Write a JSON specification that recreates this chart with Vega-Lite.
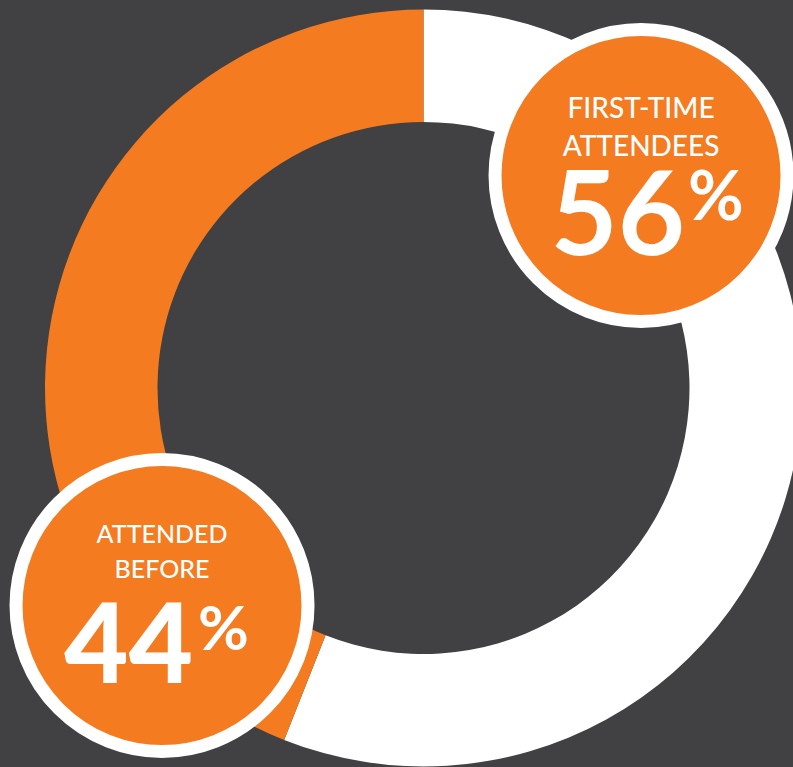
{
  "$schema": "https://vega.github.io/schema/vega-lite/v6.json",
  "width": 739,
  "height": 758,
  "autosize": {"type": "none"},
  "padding": {"left": 54, "top": 9, "right": 0, "bottom": 0},
  "background": "#414042",
  "config": {"view": {"stroke": null}},
  "data": {
    "values": [
      {"group": "First-time attendees", "share": 56, "line1": "FIRST-TIME", "line2": "ATTENDEES"},
      {"group": "Attended before", "share": 44, "line1": "ATTENDED", "line2": "BEFORE"}
    ]
  },
  "layer": [
    {
      "mark": {"type": "arc", "outerRadius": 378.5, "innerRadius": 266},
      "encoding": {
        "theta": {"field": "share", "type": "quantitative", "stack": true},
        "color": {
          "field": "group",
          "type": "nominal",
          "scale": {"domain": ["First-time attendees", "Attended before"], "range": ["#FFFFFF", "#F47B20"]},
          "legend": null
        },
        "order": {"field": "share", "type": "quantitative", "sort": "descending"}
      }
    },
    {
      "encoding": {
        "x": {"field": "share", "type": "quantitative", "scale": {"domain": [41.294, 59.807], "nice": false, "zero": false}, "axis": null},
        "y": {"field": "share", "type": "quantitative", "scale": {"domain": [39.493, 60.646], "nice": false, "zero": false}, "axis": null}
      },
      "layer": [
        {
          "mark": {"type": "point", "shape": "circle", "filled": true, "fill": "#F47B20", "stroke": "#FFFFFF", "strokeWidth": 13, "size": 85264, "opacity": 1, "fillOpacity": 1, "strokeOpacity": 1}
        },
        {
          "transform": [{"filter": "datum.share == 56"}],
          "mark": {"type": "text", "font": "Lato", "fontSize": 28, "fontWeight": 500, "fill": "#FFFFFF", "align": "center", "baseline": "alphabetic", "dy": -57.5, "letterSpacing": 2.2},
          "encoding": {"text": {"field": "line1", "type": "nominal"}}
        },
        {
          "transform": [{"filter": "datum.share == 56"}],
          "mark": {"type": "text", "font": "Lato", "fontSize": 28, "fontWeight": 500, "fill": "#FFFFFF", "align": "center", "baseline": "alphabetic", "dy": -19.5, "letterSpacing": 2.2},
          "encoding": {"text": {"field": "line2", "type": "nominal"}}
        },
        {
          "transform": [{"filter": "datum.share == 56"}],
          "mark": {"type": "text", "font": "Lato", "fontSize": 116, "fontWeight": 700, "fill": "#FFFFFF", "align": "right", "baseline": "alphabetic", "dx": 44, "dy": 79.5},
          "encoding": {"text": {"field": "share", "type": "quantitative"}}
        },
        {
          "transform": [{"filter": "datum.share == 56"}],
          "mark": {"type": "text", "font": "Lato", "fontSize": 68, "fontWeight": 700, "fill": "#FFFFFF", "align": "left", "baseline": "alphabetic", "dx": 47, "dy": 44.5, "text": "%"}
        },
        {
          "transform": [{"filter": "datum.share == 44"}],
          "mark": {"type": "text", "font": "Lato", "fontSize": 25, "fontWeight": 500, "fill": "#FFFFFF", "align": "center", "baseline": "alphabetic", "dy": -62.5, "letterSpacing": 2.2},
          "encoding": {"text": {"field": "line1", "type": "nominal"}}
        },
        {
          "transform": [{"filter": "datum.share == 44"}],
          "mark": {"type": "text", "font": "Lato", "fontSize": 25, "fontWeight": 500, "fill": "#FFFFFF", "align": "center", "baseline": "alphabetic", "dy": -27.5, "letterSpacing": 2.2},
          "encoding": {"text": {"field": "line2", "type": "nominal"}}
        },
        {
          "transform": [{"filter": "datum.share == 44"}],
          "mark": {"type": "text", "font": "Lato", "fontSize": 111, "fontWeight": 900, "fill": "#FFFFFF", "align": "right", "baseline": "alphabetic", "dx": 31, "dy": 77.5},
          "encoding": {"text": {"field": "share", "type": "quantitative"}}
        },
        {
          "transform": [{"filter": "datum.share == 44"}],
          "mark": {"type": "text", "font": "Lato", "fontSize": 62, "fontWeight": 700, "fill": "#FFFFFF", "align": "left", "baseline": "alphabetic", "dx": 36, "dy": 44.5, "text": "%"}
        }
      ]
    }
  ]
}
